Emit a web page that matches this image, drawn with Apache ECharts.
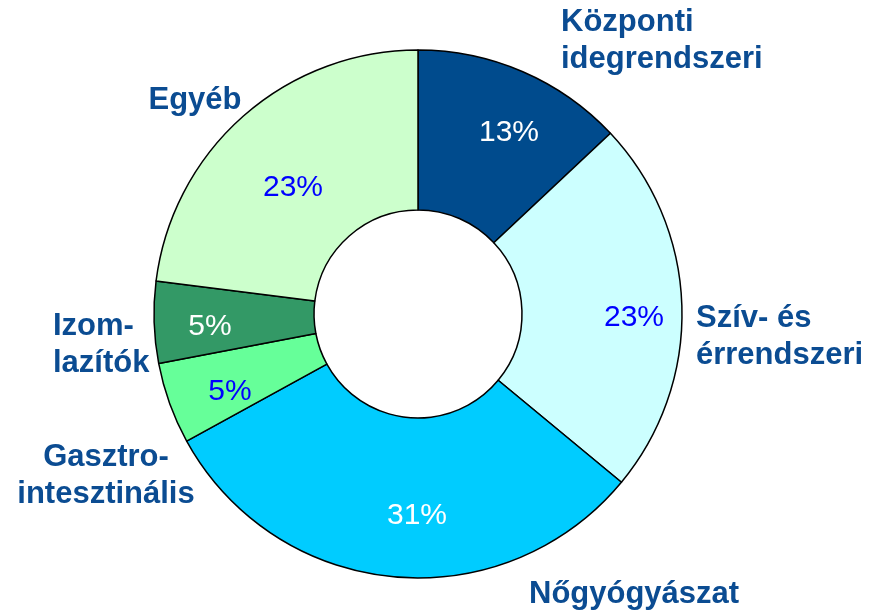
<!DOCTYPE html>
<html>
<head>
<meta charset="utf-8">
<script src="https://cdn.jsdelivr.net/npm/echarts@6/dist/echarts.min.js"></script>
<style>
  html, body { margin: 0; padding: 0; background: #fff; }
  #main { width: 871px; height: 614px; }
</style>
</head>
<body>
<div id="main"></div>
<script>
// adatok (óramutató járásával megegyezően, felülről)
var categories = ['Központi\nidegrendszeri', 'Szív- és\nérrendszeri', 'Nőgyógyászat', 'Gasztro-\nintesztinális', 'Izom-\nlazítók', 'Egyéb'];
var values = [13, 23, 31, 5, 5, 23];
var colors = ['#004B8D', '#CCFFFF', '#00CCFF', '#66FF99', '#339966', '#CCFFCC'];
var pctColors = ['#ffffff', '#0000FF', '#ffffff', '#0000FF', '#ffffff', '#0000FF'];

// címkék helye
var pctPos = [[509, 133], [634, 318], [417, 516], [230, 392], [210, 327], [293, 188]];
var namePos = [[561, 41, 'left'], [696, 337, 'left'], [529, 594, 'left'], [106, 476, 'center'], [53, 345, 'left'], [195, 100, 'center']];

var myChart = echarts.init(document.getElementById('main'));

var pieData = categories.map(function (c, i) {
    return {
        name: c,
        value: values[i],
        itemStyle: { color: colors[i] },
        label: { color: pctColors[i] }
    };
});
var nameData = categories.map(function (c, i) {
    return { name: c, value: values[i] };
});

var option = {
    backgroundColor: '#ffffff',
    animation: false,
    series: [{
        type: 'pie',
        center: [418, 314],
        radius: [104, 264],
        startAngle: 90,
        clockwise: true,
        silent: true,
        itemStyle: {
            borderColor: '#000000',
            borderWidth: 1.5
        },
        label: {
            show: true,
            position: 'inside',
            formatter: '{c}%',
            fontFamily: 'Liberation Sans, Arial, sans-serif',
            fontSize: 30
        },
        labelLayout: function (p) {
            var q = pctPos[p.dataIndex];
            return { x: q[0], y: q[1], align: 'center', verticalAlign: 'middle' };
        },
        data: pieData
    }, {
        // csak a nevek
        type: 'pie',
        center: [418, 314],
        radius: [104, 264],
        startAngle: 90,
        silent: true,
        itemStyle: { color: 'transparent', borderWidth: 0 },
        label: {
            show: true,
            position: 'inside',
            formatter: '{b}',
            color: '#0B4C92',
            fontFamily: 'Liberation Sans, Arial, sans-serif',
            fontWeight: 'bold',
            fontSize: 31,
            lineHeight: 37
        },
        labelLine: { show: false },
        labelLayout: function (p) {
            var q = namePos[p.dataIndex];
            return { x: q[0], y: q[1], align: q[2], verticalAlign: 'middle' };
        },
        data: nameData
    }]
};
myChart.setOption(option);
</script>
</body>
</html>
